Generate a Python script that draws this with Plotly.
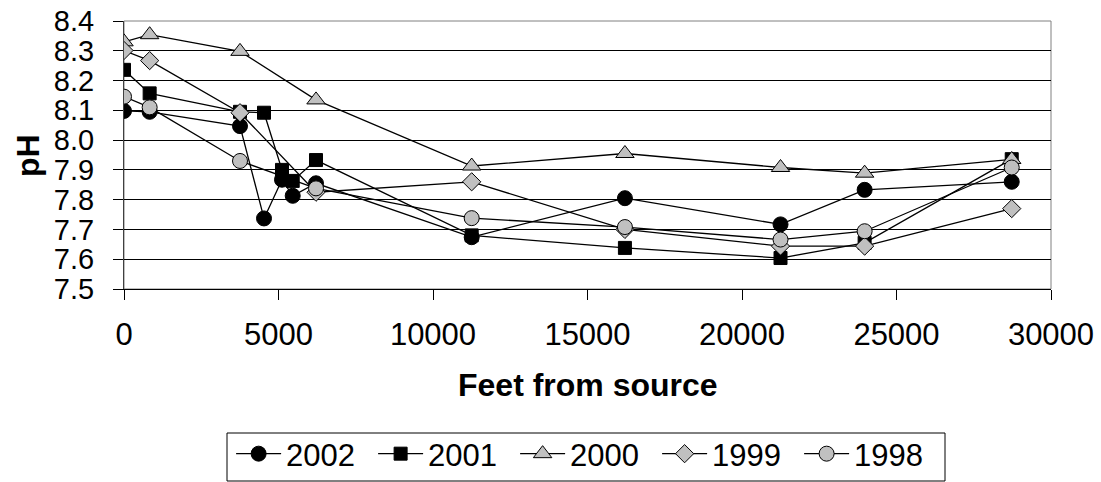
import plotly.graph_objects as go

# Distances (feet from source)
x_2002 = [0, 830, 3754, 4531, 5113, 5460, 6214, 11252, 16211, 21247, 23969, 28729]
ph_2002 = [8.098, 8.095, 8.047, 7.737, 7.867, 7.813, 7.855, 7.674, 7.805, 7.717, 7.833, 7.860]

x_2001 = [0, 830, 3754, 4531, 5113, 5460, 6214, 11252, 16211, 21247, 23969, 28729]
ph_2001 = [8.236, 8.157, 8.095, 8.092, 7.900, 7.863, 7.933, 7.680, 7.638, 7.604, 7.655, 7.936]

x_2000 = [0, 830, 3754, 6214, 11252, 16211, 21247, 23969, 28729]
ph_2000 = [8.330, 8.354, 8.298, 8.135, 7.913, 7.955, 7.908, 7.889, 7.935]

x_1999 = [0, 830, 3754, 6214, 11252, 16211, 21247, 23969, 28729]
ph_1999 = [8.301, 8.267, 8.092, 7.825, 7.860, 7.700, 7.644, 7.644, 7.770]

x_1998 = [0, 830, 3754, 6214, 11252, 16211, 21247, 23969, 28729]
ph_1998 = [8.146, 8.110, 7.930, 7.838, 7.738, 7.708, 7.666, 7.694, 7.908]

series = [
    ("2002", x_2002, ph_2002, "circle", 15, "#000000"),
    ("2001", x_2001, ph_2001, "square", 13, "#000000"),
    ("2000", x_2000, ph_2000, "triangle-up", 16, "#c0c0c0"),
    ("1999", x_1999, ph_1999, "diamond", 14, "#c0c0c0"),
    ("1998", x_1998, ph_1998, "circle", 15, "#c0c0c0"),
]

FONT = "Liberation Sans, Arial, sans-serif"

fig = go.Figure()
for name, xs, ys, sym, size, col in series:
    fig.add_trace(go.Scatter(
        x=xs, y=ys, name=name, mode="lines+markers",
        line=dict(color="#000000", width=1.3),
        marker=dict(symbol=sym, size=size, color=col,
                    line=dict(color="#000000", width=1)),
    ))

fig.update_layout(
    width=1101, height=482,
    margin=dict(l=124, r=50, t=21, b=193, autoexpand=False),
    paper_bgcolor="white", plot_bgcolor="white",
    font=dict(family=FONT, size=31, color="#000000"),
    showlegend=True,
    legend=dict(
        orientation="h", x=0.4985, xanchor="center", y=-0.515, yanchor="top",
        borderwidth=0, bgcolor="rgba(0,0,0,0)",
        font=dict(family=FONT, size=31), itemwidth=45,
        entrywidth=82, entrywidthmode="pixels",
        tracegroupgap=0,
    ),
    xaxis=dict(
        range=[0, 30000], dtick=5000, tick0=0, tickformat="d",
        showgrid=False, zeroline=False,
        showline=True, linecolor="#000000", linewidth=1,
        ticks="outside", ticklen=10, tickcolor="#000000",
        tickfont=dict(family=FONT, size=31),
        ticklabelstandoff=8,
    ),
    yaxis=dict(
        range=[7.5, 8.4], dtick=0.1, tick0=7.5, tickformat=".1f",
        showgrid=True, gridcolor="#000000", gridwidth=1,
        zeroline=False,
        showline=True, linecolor="#404040", linewidth=1,
        ticks="outside", ticklen=10, tickcolor="#000000",
        tickfont=dict(family=FONT, size=29),
        ticklabelstandoff=13,
    ),
    shapes=[
        dict(type="rect", xref="paper", yref="paper", x0=0, x1=1, y0=0, y1=1,
             line=dict(color="#808080", width=1), layer="between"),
        # legend frame
        dict(type="rect", xref="paper", yref="paper",
             x0=(227 - 124) / 927, x1=(945 - 124) / 927,
             y0=(289 - 481) / 268, y1=(289 - 433) / 268,
             line=dict(color="#000000", width=1), fillcolor="rgba(0,0,0,0)",
             layer="above"),
    ],
    annotations=[
        dict(text="<b>pH</b>", xref="paper", yref="paper", x=-0.1036, y=0.5,
             xanchor="center", yanchor="middle", textangle=-90, showarrow=False,
             font=dict(family=FONT, size=32)),
        dict(text="<b>Feet from source</b>", xref="paper", yref="paper", x=0.5, y=-0.358,
             xanchor="center", yanchor="middle", showarrow=False,
             font=dict(family=FONT, size=32)),
    ],
)

fig.write_html("out.html")
